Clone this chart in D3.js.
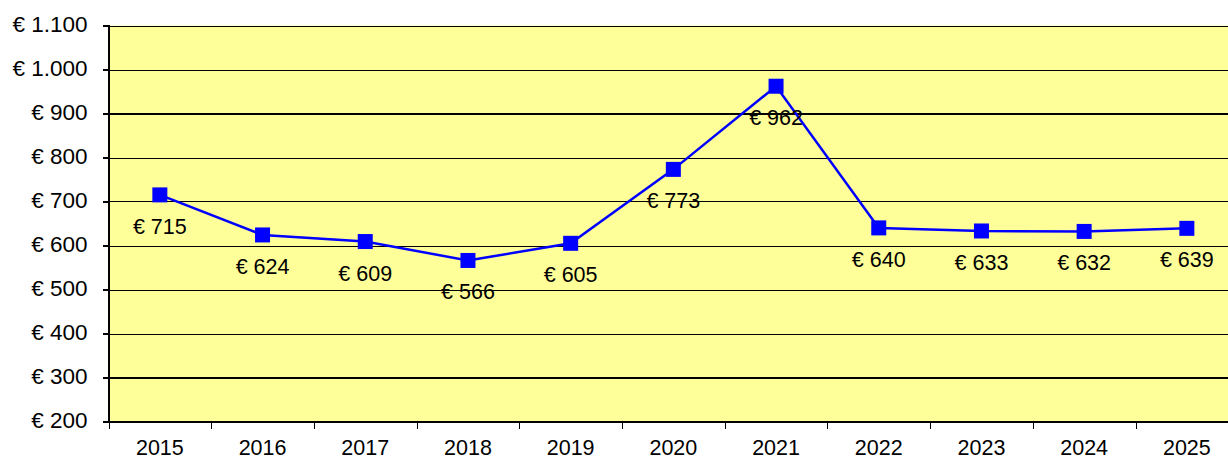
<!DOCTYPE html>
<html>
<head>
<meta charset="utf-8">
<script src="https://cdn.jsdelivr.net/npm/d3@7/dist/d3.min.js"></script>
<style>
  html, body { margin: 0; padding: 0; background: #ffffff; }
  svg { display: block; }
  text { font-family: "Liberation Sans", Arial, sans-serif; fill: #000; }
</style>
</head>
<body>
<svg id="chart" width="1228" height="459"></svg>
<script>
// Yearly average amount, 2015–2025
const years = ["2015", "2016", "2017", "2018", "2019", "2020", "2021", "2022", "2023", "2024", "2025"];
const amounts = [715, 624, 609, 566, 605, 773, 962, 640, 633, 632, 639];
const yTicks = [200, 300, 400, 500, 600, 700, 800, 900, 1000, 1100];

const plot = { left: 108.5, top: 25.5, bottom: 421.5, bandW: 102.7 };

const svg = d3.select("#chart");

const nl = d3.formatLocale({ decimal: ",", thousands: ".", grouping: [3], currency: ["€ ", ""] });
const euro = nl.format("$,.0f");

const x = d3.scaleBand()
  .domain(years)
  .range([plot.left, plot.left + plot.bandW * years.length])
  .paddingInner(0).paddingOuter(0);

const y = d3.scaleLinear()
  .domain([200, 1100])
  .range([plot.bottom, plot.top]);

// plot background
svg.append("rect")
  .attr("x", plot.left)
  .attr("y", plot.top)
  .attr("width", x.range()[1] - plot.left)
  .attr("height", plot.bottom - plot.top)
  .attr("fill", "#ffff99");

// horizontal gridlines
svg.append("g")
  .selectAll("line")
  .data(yTicks)
  .join("line")
  .attr("x1", plot.left)
  .attr("x2", x.range()[1])
  .attr("y1", d => Math.round(y(d)) + 0.5)
  .attr("y2", d => Math.round(y(d)) + 0.5)
  .attr("stroke", "#000")
  .attr("stroke-width", d => (d === 900 || d === 300) ? 2 : 1.2)
  .attr("shape-rendering", "crispEdges");

// left axis
const yAxis = svg.append("g")
  .attr("transform", `translate(${plot.left},0)`)
  .call(d3.axisLeft(y).tickValues(yTicks).tickSize(6).tickPadding(15).tickFormat(euro));
yAxis.select(".domain").attr("stroke", "#000").attr("stroke-width", 1.2).attr("shape-rendering", "crispEdges");
yAxis.selectAll(".tick line").attr("stroke", "#000").attr("stroke-width", 1.2).attr("shape-rendering", "crispEdges");
yAxis.selectAll(".tick text")
  .attr("font-size", 22.5)
  .attr("font-family", "Liberation Sans, Arial, sans-serif")
  .attr("dy", "0.27em");

// bottom axis with ticks at band boundaries
const xAxisG = svg.append("g");
xAxisG.append("line")
  .attr("x1", plot.left).attr("x2", x.range()[1])
  .attr("y1", plot.bottom + 0.5).attr("y2", plot.bottom + 0.5)
  .attr("stroke", "#000").attr("stroke-width", 1.2)
  .attr("shape-rendering", "crispEdges");
xAxisG.selectAll("line.tk")
  .data(years)
  .join("line")
  .attr("class", "tk")
  .attr("x1", d => Math.round(x(d)) + 0.5)
  .attr("x2", d => Math.round(x(d)) + 0.5)
  .attr("y1", plot.bottom)
  .attr("y2", plot.bottom + 7)
  .attr("stroke", "#000").attr("stroke-width", 1.5)
  .attr("shape-rendering", "crispEdges");
xAxisG.selectAll("text")
  .data(years)
  .join("text")
  .attr("x", d => x(d) + x.bandwidth() / 2)
  .attr("y", 455)
  .attr("text-anchor", "middle")
  .attr("font-size", 21.5)
  .text(d => d);

// series line
const pts = years.map((yr, i) => ({ yr, v: amounts[i] }));
const line = d3.line()
  .x(d => x(d.yr) + x.bandwidth() / 2)
  .y(d => y(d.v));

svg.append("path")
  .datum(pts)
  .attr("d", line)
  .attr("fill", "none")
  .attr("stroke", "#0000ff")
  .attr("stroke-width", 2.5);

// square markers
const ms = 15;
svg.append("g")
  .selectAll("rect")
  .data(pts)
  .join("rect")
  .attr("x", d => x(d.yr) + x.bandwidth() / 2 - ms / 2)
  .attr("y", d => y(d.v) - ms / 2)
  .attr("width", ms)
  .attr("height", ms)
  .attr("fill", "#0000ff");

// value labels below each point
svg.append("g")
  .selectAll("text")
  .data(pts)
  .join("text")
  .attr("x", d => x(d.yr) + x.bandwidth() / 2)
  .attr("y", d => y(d.v) + 39)
  .attr("text-anchor", "middle")
  .attr("font-size", 21.5)
  .text(d => euro(d.v));
</script>
</body>
</html>
